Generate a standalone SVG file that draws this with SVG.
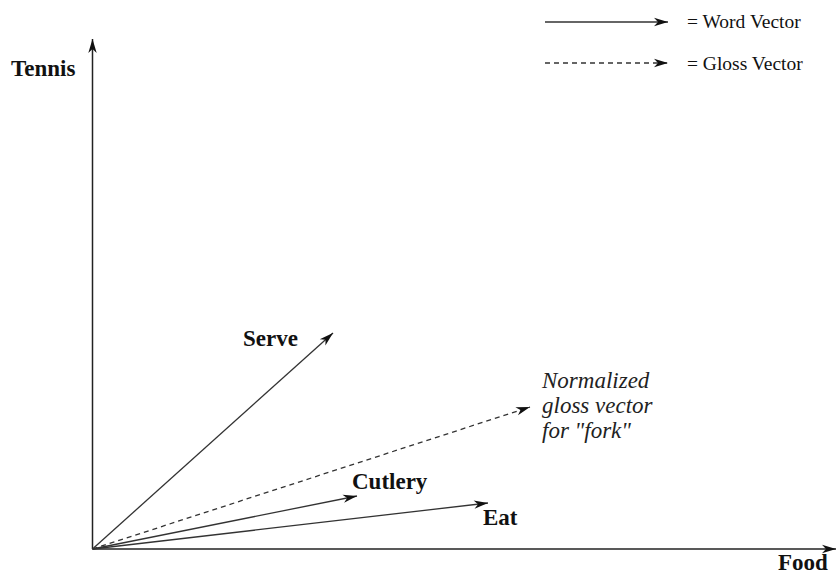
<svg xmlns="http://www.w3.org/2000/svg" width="837" height="575" viewBox="0 0 837 575">
  <defs>
    <marker id="head" markerUnits="userSpaceOnUse" markerWidth="16" markerHeight="10" refX="14" refY="5" orient="auto" overflow="visible">
      <path d="M14,5 L0,0.8 L4,5 L0,9.2 Z" fill="#111" stroke="none"/>
    </marker>
  </defs>
  <style>
    .axis { stroke: #222; stroke-width: 1.5; fill: none; }
    .vec { stroke: #333; stroke-width: 1.3; fill: none; }
    .gloss { stroke: #333; stroke-width: 1.3; fill: none; stroke-dasharray: 5 4; }
    .lbl { font-family: "Liberation Serif", "Times New Roman", serif; font-weight: bold; font-size: 23px; fill: #111; }
    .note { font-family: "Liberation Serif", "Times New Roman", serif; font-style: italic; font-size: 23px; fill: #222; }
    .key { font-family: "Liberation Serif", "Times New Roman", serif; font-size: 19.5px; fill: #111; }
  </style>
  <rect width="837" height="575" fill="#fff"/>

  <!-- legend -->
  <g id="legend">
    <line class="vec" x1="545" y1="22" x2="668" y2="22" marker-end="url(#head)"/>
    <text class="key" x="687" y="28">= Word Vector</text>
    <line class="gloss" x1="545" y1="63" x2="668" y2="63" marker-end="url(#head)"/>
    <text class="key" x="687" y="70">= Gloss Vector</text>
  </g>

  <!-- axes and vectors -->
  <g id="connectors">
    <line class="axis" x1="92.5" y1="549" x2="92.5" y2="39" marker-end="url(#head)"/>
    <line class="axis" x1="92.5" y1="549" x2="836" y2="549" marker-end="url(#head)"/>
    <line class="vec" x1="92.5" y1="549" x2="333" y2="333" marker-end="url(#head)"/>
    <line class="gloss" x1="92.5" y1="549" x2="530" y2="407" marker-end="url(#head)"/>
    <line class="vec" x1="92.5" y1="549" x2="357" y2="496" marker-end="url(#head)"/>
    <line class="vec" x1="92.5" y1="549" x2="488" y2="503" marker-end="url(#head)"/>
  </g>

  <g id="tennis"><text class="lbl" x="11" y="76">Tennis</text></g>
  <g id="food"><text class="lbl" x="778" y="570">Food</text></g>
  <g id="serve"><text class="lbl" x="243" y="346">Serve</text></g>
  <g id="cutlery"><text class="lbl" x="352" y="489">Cutlery</text></g>
  <g id="eat"><text class="lbl" x="483" y="525">Eat</text></g>
  <g id="gloss-fork">
    <text class="note" x="542" y="388">Normalized</text>
    <text class="note" x="542" y="413">gloss vector</text>
    <text class="note" x="542" y="438">for "fork"</text>
  </g>
</svg>
